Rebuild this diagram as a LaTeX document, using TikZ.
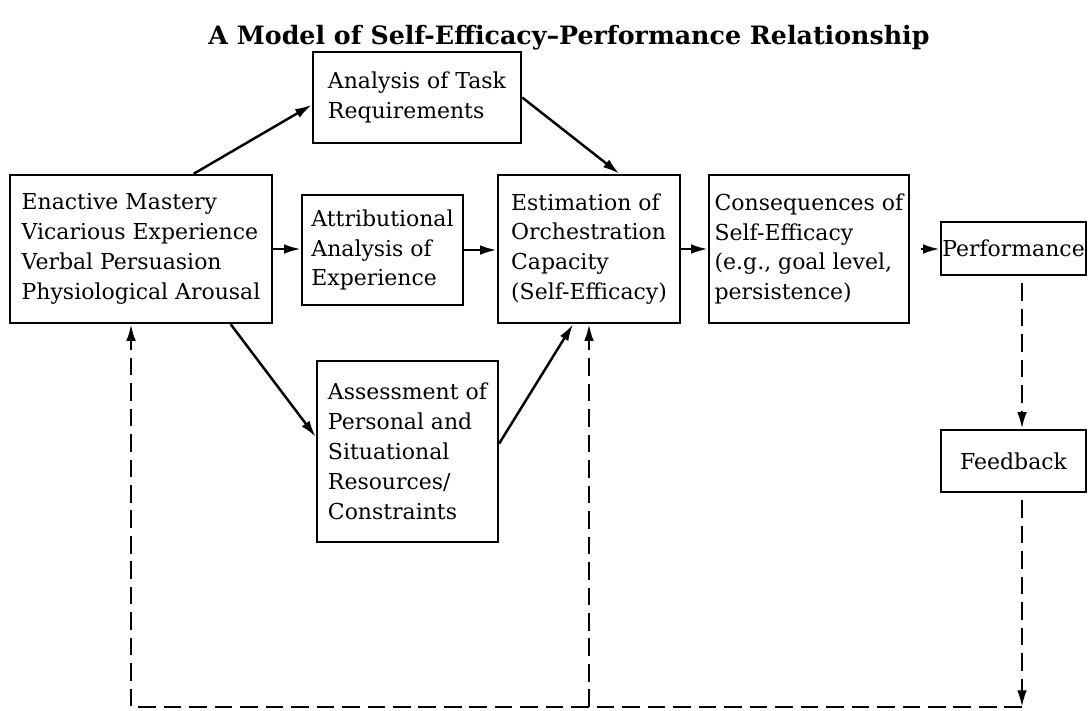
\documentclass[tikz,border=0pt]{standalone}
\usepackage{fontspec}
\setmainfont{DejaVu Serif}
\usetikzlibrary{arrows.meta}
\begin{document}
\begin{tikzpicture}[x=0.02cm,y=-0.02cm,font=\fontsize{12.5}{17}\selectfont,>={Latex[length=9.5pt,width=5.5pt]},
  box/.style={draw,line width=1.4pt,align=left,inner sep=0pt},
  flow/.style={->,line width=1.4pt},
  back/.style={->,line width=1.4pt,dash pattern=on 10pt off 4.5pt}]
\useasboundingbox (0,0) rectangle (1088,710);
\node[font=\fontsize{14.4}{17}\selectfont\bfseries] (title) at (569,38) {A Model of Self-Efficacy--Performance Relationship};
\node[box,minimum width=4.16cm,minimum height=1.82cm] (task) at (417,97.5) {Analysis of Task\\Requirements};
\node[box,minimum width=5.24cm,minimum height=2.96cm] (enact) at (141,249) {Enactive Mastery\\Vicarious Experience\\Verbal Persuasion\\Physiological Arousal};
\node[box,minimum width=3.22cm,minimum height=2.2cm] (attr) at (382.5,250) {Attributional\\Analysis of\\Experience};
\node[box,minimum width=3.64cm,minimum height=2.96cm] (est) at (589,249) {Estimation of\\Orchestration\\Capacity\\(Self-Efficacy)};
\node[box,minimum width=4cm,minimum height=2.96cm] (cons) at (809,249) {Consequences of\\Self-Efficacy\\(e.g., goal level,\\persistence)};
\node[box,minimum width=2.9cm,minimum height=1.06cm] (perf) at (1013.5,248.5) {Performance};
\node[box,minimum width=2.9cm,minimum height=1.24cm] (fb) at (1013.5,461) {Feedback};
\node[box,minimum width=3.62cm,minimum height=3.62cm] (assess) at (407.5,451.5) {Assessment of\\Personal and\\Situational\\Resources/\\Constraints};
\coordinate (fbend) at (1022,707);\coordinate (backL) at (131,707);\coordinate (backM) at (589,707);
\draw[flow] (enact.55) -- (task.184);\draw[flow] (task.east) -- (est.68);
\draw[flow] (enact.east) -- (enact.east -| attr.west);\draw[flow] (attr.east) -- (attr.east -| est.west);
\draw[flow] (est.east) -- (cons.west);\draw[flow,shorten <=0.22cm] (cons.east) -- (cons.east -| perf.west);
\draw[flow] (enact.-40) -- (assess.171);\draw[flow] (assess.5) -- (est.258);
\draw[back,shorten <=0.14cm] (perf.south -| fbend) -- (fb.north -| fbend);
\draw[back,shorten <=0.14cm] (fb.south -| fbend) -- (fbend);
\draw[back] (fbend) -- (backL) -- (enact.south -| backL);
\draw[back] (backM) -- (est.south -| backM);
\end{tikzpicture}
\end{document}
